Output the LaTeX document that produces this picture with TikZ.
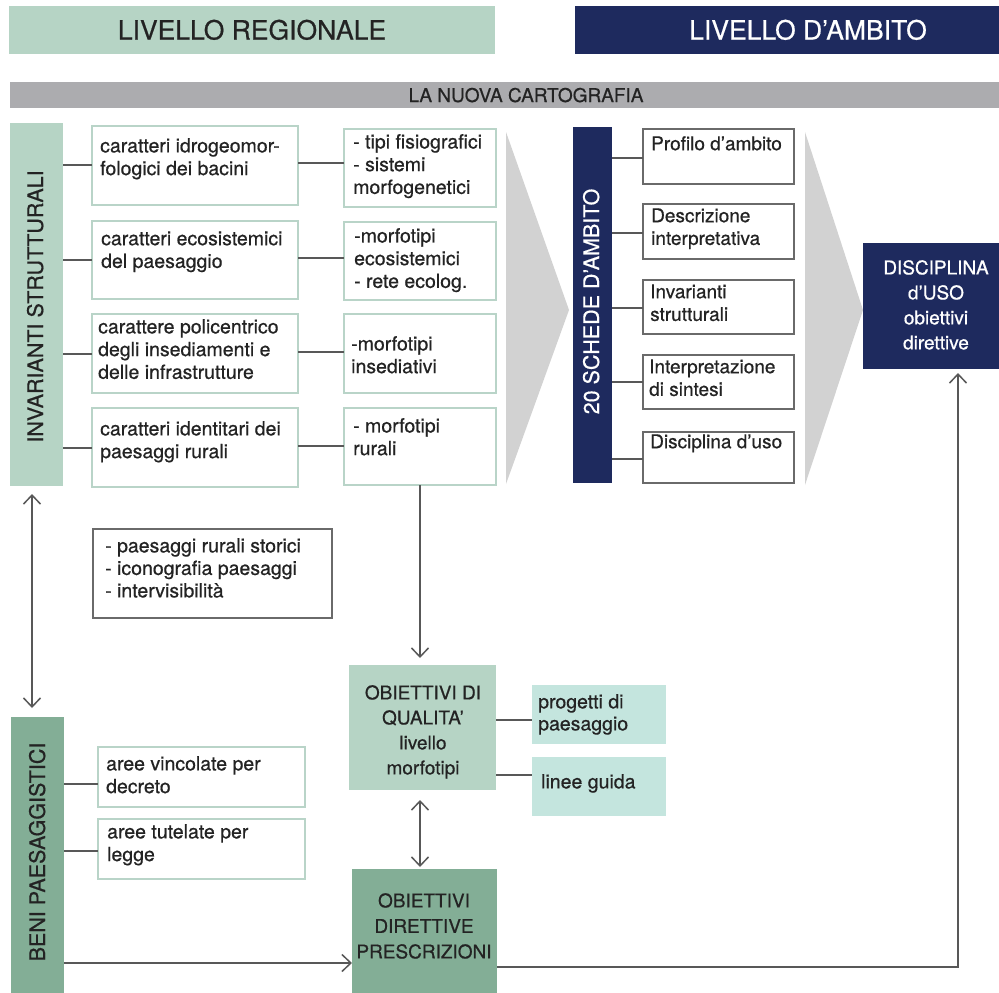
\documentclass[tikz,border=0pt]{standalone}
\usepackage{fontspec}
\setmainfont{TeX Gyre Heros}[FakeBold=0.6]
\usetikzlibrary{arrows.meta}

\definecolor{paleGreen}{HTML}{B6D4C5}
\definecolor{deepGreen}{HTML}{83AE96}
\definecolor{navyFill}{HTML}{1E2A5E}
\definecolor{barGray}{HTML}{ACACAF}
\definecolor{chevGray}{HTML}{D2D2D2}
\definecolor{tealFill}{HTML}{C4E5DE}
\definecolor{edgeGreen}{HTML}{B9D4C8}
\definecolor{edgeGray}{HTML}{6A6A6A}
\definecolor{wire}{HTML}{585858}
\definecolor{ink}{HTML}{232323}

\newcommand\myfs[2]{\fontsize{#1}{#2}\selectfont}
\newcommand\ldstrut{\rule{0pt}{14pt}}

\tikzset{
  blk/.style={anchor=north west, inner sep=0pt, outer sep=0pt},
  gbox/.style={blk, draw=edgeGreen, line width=2.2pt, fill=white},
  kbox/.style={blk, draw=edgeGray, line width=1.3pt, fill=white},
  txt/.style={anchor=north west, inner sep=0pt, align=left, text=ink, font=\myfs{19.5}{22.7}},
  ctxt/.style={anchor=north, inner sep=0pt, align=center, font=\myfs{19}{25}},
  vlabel/.style={rotate=90, anchor=base, inner sep=0pt, font=\myfs{21.5}{24}},
  conn/.style={draw=wire, line width=1.5pt},
  arr/.style={conn, -{Straight Barb[length=9pt,width=17pt,line width=1.5pt]}},
  darr/.style={conn, {Straight Barb[length=9pt,width=17pt,line width=1.5pt]}-{Straight Barb[length=9pt,width=17pt,line width=1.5pt]}}
}

\begin{document}
\begin{tikzpicture}[x=1pt,y=-1pt]
\useasboundingbox (0,0) rectangle (999,993);

% headers
\node[blk, fill=paleGreen, minimum width=486pt, minimum height=48pt] (hreg) at (9,6) {};
\node[anchor=base, inner sep=0pt, text=ink, font=\myfs{26.5}{30}] (hregt) at (252,39.5) {LIVELLO REGIONALE};
\node[blk, fill=navyFill, minimum width=430pt, minimum height=48pt] (hamb) at (575,6) {};
\node[anchor=base, inner sep=0pt, text=white, font=\myfs{26.5}{30}] (hambt) at (808,39.5) {LIVELLO D’AMBITO};

\node[blk, fill=barGray, minimum width=995pt, minimum height=26pt] (carto) at (10,82) {};
\node[anchor=base, inner sep=0pt, text=ink, font=\myfs{19}{22}] (cartot) at (526,102) {LA NUOVA CARTOGRAFIA};

% chevrons
\fill[chevGray] (506,132) -- (569,310) -- (506,484) -- cycle;
\fill[chevGray] (805,132) -- (863,310) -- (805,485) -- cycle;

% invarianti strutturali
\node[blk, fill=paleGreen, minimum width=53pt, minimum height=363pt] (inv) at (10,123) {};
\node[vlabel, text=ink] (invt) at (43,306.5) {INVARIANTI STRUTTURALI};

\node[gbox, minimum width=206pt, minimum height=79pt] (c1) at (92,126) {};
\node[gbox, minimum width=206pt, minimum height=78pt] (c2) at (92,221) {};
\node[gbox, minimum width=206pt, minimum height=79pt] (c3) at (92,314) {};
\node[gbox, minimum width=206pt, minimum height=79pt] (c4) at (92,408) {};

\node[gbox, minimum width=152pt, minimum height=78pt] (d1) at (344,129) {};
\node[gbox, minimum width=152pt, minimum height=78pt] (d2) at (344,222) {};
\node[gbox, minimum width=152pt, minimum height=79pt] (d3) at (344,314) {};
\node[gbox, minimum width=152pt, minimum height=77pt] (d4) at (344,408) {};

\node[txt] (t1) at (100,138) {\ldstrut caratteri idrogeomor-\\fologici dei bacini};
\node[txt] (t2) at (101,231) {\ldstrut caratteri ecosistemici\\del paesaggio};
\node[txt] (t3) at (98,319) {\ldstrut carattere policentrico\\degli insediamenti e\\delle infrastrutture};
\node[txt] (t4) at (100,421) {\ldstrut caratteri identitari dei\\paesaggi rurali};

\node[txt] (u1) at (353,134) {\ldstrut - tipi fisiografici\\- sistemi\\morfogenetici};
\node[txt] (u2) at (354,228) {\ldstrut -morfotipi\\ecosistemici\\- rete ecolog.};
\node[txt] (u3) at (351,336) {\ldstrut -morfotipi\\insediativi};
\node[txt] (u4) at (353,418) {\ldstrut - morfotipi\\rurali};

\draw[conn] (inv.east |- 0,165) -- (c1.west |- 0,165);
\draw[conn] (inv.east |- 0,260) -- (c2.west |- 0,260);
\draw[conn] (inv.east |- 0,354) -- (c3.west |- 0,354);
\draw[conn] (inv.east |- 0,448) -- (c4.west |- 0,448);
\draw[conn] (c1.east |- 0,163) -- (d1.west |- 0,163);
\draw[conn] (c2.east |- 0,258) -- (d2.west |- 0,258);
\draw[conn] (c3.east |- 0,352) -- (d3.west |- 0,352);
\draw[conn] (c4.east |- 0,446) -- (d4.west |- 0,446);

% schede d'ambito
\node[blk, fill=navyFill, minimum width=39pt, minimum height=356pt] (sch) at (573,127) {};
\node[vlabel, text=white] (scht) at (599,301.5) {20 SCHEDE D’AMBITO};

\node[kbox, minimum width=151pt, minimum height=55pt] (r1) at (643,129) {};
\node[kbox, minimum width=151pt, minimum height=55pt] (r2) at (643,204) {};
\node[kbox, minimum width=151pt, minimum height=54pt] (r3) at (643,280) {};
\node[kbox, minimum width=151pt, minimum height=54pt] (r4) at (643,355) {};
\node[kbox, minimum width=151pt, minimum height=51pt] (r5) at (643,432) {};

\node[txt, font=\myfs{19}{22.7}] (v1) at (651,136) {\ldstrut Profilo d’ambito};
\node[txt, font=\myfs{19}{22.7}] (v2) at (651,208) {\ldstrut Descrizione\\interpretativa};
\node[txt, font=\myfs{19}{22.7}] (v3) at (650,284) {\ldstrut Invarianti\\strutturali};
\node[txt, font=\myfs{19}{22.7}] (v4) at (649,359) {\ldstrut Interpretazione\\di sintesi};
\node[txt, font=\myfs{19}{22.7}] (v5) at (650,434) {\ldstrut Disciplina d’uso};

\draw[conn] (sch.east |- 0,158) -- (r1.west |- 0,158);
\draw[conn] (sch.east |- 0,233) -- (r2.west |- 0,233);
\draw[conn] (sch.east |- 0,308) -- (r3.west |- 0,308);
\draw[conn] (sch.east |- 0,382) -- (r4.west |- 0,382);
\draw[conn] (sch.east |- 0,459) -- (r5.west |- 0,459);

% disciplina
\node[blk, fill=navyFill, minimum width=140pt, minimum height=126pt] (disc) at (863,243) {};
\node[ctxt, text=white] (disct) at (936,260) {\ldstrut DISCIPLINA\\d’USO\\obiettivi\\direttive};

% lower left
\node[kbox, minimum width=239pt, minimum height=89pt] (rur) at (93,529) {};
\node[txt, font=\myfs{19.5}{22.5}] (rurt) at (105,538) {\ldstrut - paesaggi rurali storici\\- iconografia paesaggi\\- intervisibilità};

\node[blk, fill=deepGreen, minimum width=53pt, minimum height=280pt] (beni) at (11,717) {};
\node[vlabel, text=ink] (benit) at (45,852) {BENI PAESAGGISTICI};

\node[gbox, minimum width=207pt, minimum height=60pt] (av) at (98,747) {};
\node[gbox, minimum width=207pt, minimum height=60pt] (at) at (98,819) {};
\node[txt] (avt) at (106,756) {\ldstrut aree vincolate per\\decreto};
\node[txt] (att) at (107,824) {\ldstrut aree tutelate per\\legge};

\draw[conn] (beni.east |- 0,784) -- (av.west |- 0,784);
\draw[conn] (beni.east |- 0,851) -- (at.west |- 0,851);

% obiettivi
\node[blk, fill=paleGreen, minimum width=147pt, minimum height=125pt] (ob) at (349,665) {};
\node[ctxt, text=ink] (obt) at (423,685) {\ldstrut OBIETTIVI DI\\QUALITA’\\livello\\morfotipi};

\node[blk, fill=deepGreen, minimum width=145pt, minimum height=130pt] (pr) at (352,869) {};
\node[ctxt, text=ink, font=\myfs{19}{25.5}] (prt) at (424,893) {\ldstrut OBIETTIVI\\DIRETTIVE\\PRESCRIZIONI};

\node[blk, fill=tealFill, minimum width=134pt, minimum height=59pt] (pg) at (532,685) {};
\node[blk, fill=tealFill, minimum width=134pt, minimum height=59pt] (lg) at (532,757) {};
\node[txt, font=\myfs{19.5}{22}] (pgt) at (538,694) {\ldstrut progetti di\\paesaggio};
\node[txt] (lgt) at (541,774) {\ldstrut linee guida};

\draw[conn] (ob.east |- 0,720) -- (pg.west |- 0,720);
\draw[conn] (ob.east |- 0,775) -- (lg.west |- 0,775);

% arrows
\draw[darr, shorten <=8pt, shorten >=9pt] (inv.south -| 32,0) -- (beni.north -| 32,0);
\draw[arr, shorten >=7pt] (d4.south) -- (d4.south |- ob.north);
\draw[darr, shorten <=10pt, shorten >=2pt] (ob.south -| 420,0) -- (pr.north -| 420,0);
\draw[arr] (beni.east |- 0,963) -- (pr.west |- 0,963);
\coordinate (turn) at (958,967);
\draw[arr, shorten >=4pt] (pr.east |- turn) -- (turn) -- (disc.south -| turn);

\end{tikzpicture}
\end{document}
